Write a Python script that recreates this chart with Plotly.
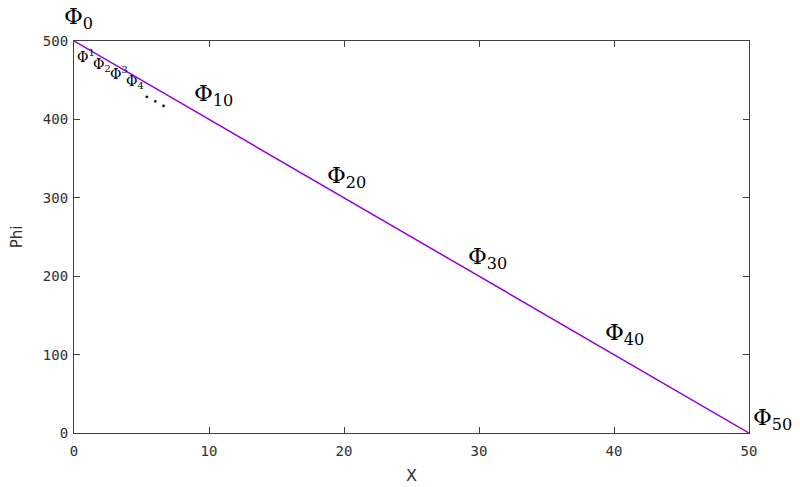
import plotly.graph_objects as go

# data
x_vals = [0, 10, 20, 30, 40, 50]
phi_vals = [500, 400, 300, 200, 100, 0]
big_labels = ["0", "10", "20", "30", "40", "50"]
small_x = [1, 2, 3, 4]
small_phi = [490, 480, 470, 460]
small_labels = ["Φ<sup>1</sup>", "Φ<sub>2</sub>", "Φ<sup>3</sup>", "Φ<sub>4</sub>"]
dots_x = [6]
dots_phi = [440]
x_ticks = [0, 10, 20, 30, 40, 50]
y_ticks = [0, 100, 200, 300, 400, 500]

# styles (pixel offsets of labels)
big_dx = [4, 4, 2, 8, 10, 23]
big_dy = [23, 24, 21, 18, 21, 14]
small_dx = [-2, 1, 4, 7]
small_dy = [-7, -8, -8, -10]
dots_dx = [2]
dots_dy = [-10]

fig = go.Figure()
fig.add_trace(go.Scatter(x=x_vals, y=phi_vals, mode="lines",
                         line=dict(color="#9400D3", width=1.5),
                         showlegend=False, hoverinfo="skip"))

for xv, yv, lab, dx, dy in zip(x_vals, phi_vals, big_labels, big_dx, big_dy):
    fig.add_annotation(x=xv, y=yv, xref="x", yref="y",
                       text="Φ<sub>%s</sub>" % lab, showarrow=False,
                       xshift=dx, yshift=dy,
                       font=dict(family="DejaVu Serif", size=23, color="#000000"))

for xv, yv, lab, dx, dy in zip(small_x, small_phi, small_labels, small_dx, small_dy):
    fig.add_annotation(x=xv, y=yv, xref="x", yref="y",
                       text=lab, showarrow=False, xshift=dx, yshift=dy,
                       font=dict(family="DejaVu Serif", size=14, color="#000000"))

for xv, yv, dx, dy in zip(dots_x, dots_phi, dots_dx, dots_dy):
    fig.add_annotation(x=xv, y=yv, xref="x", yref="y",
                       text="<b>. . .</b>", showarrow=False, textangle=28,
                       xshift=dx, yshift=dy,
                       font=dict(family="DejaVu Sans", size=13, color="#000000"))

axis_common = dict(showline=True, linecolor="#404040", linewidth=1.2, mirror="ticks",
                   ticks="inside", ticklen=6, tickcolor="#404040", tickwidth=1,
                   showgrid=False, zeroline=False, automargin=False,
                   tickfont=dict(family="DejaVu Sans Mono", size=14, color="#303030"))

fig.update_xaxes(range=[0, 50], tickvals=x_ticks, ticklabelstandoff=5,
                 title=dict(text="X", font=dict(family="DejaVu Sans", size=16, color="#303030"), standoff=11),
                 **axis_common)
fig.update_yaxes(range=[0, 500], tickvals=y_ticks, ticklabelstandoff=2,
                 title=dict(text="Phi", font=dict(family="DejaVu Sans", size=15, color="#303030"), standoff=20),
                 **axis_common)

# page body has an 8px margin; shift the figure so the plot area lands where the reference has it
fig.update_layout(width=792, height=479, plot_bgcolor="white", paper_bgcolor="white",
                  margin=dict(l=66, r=51, t=33, b=54))

fig.write_html("out.html")
